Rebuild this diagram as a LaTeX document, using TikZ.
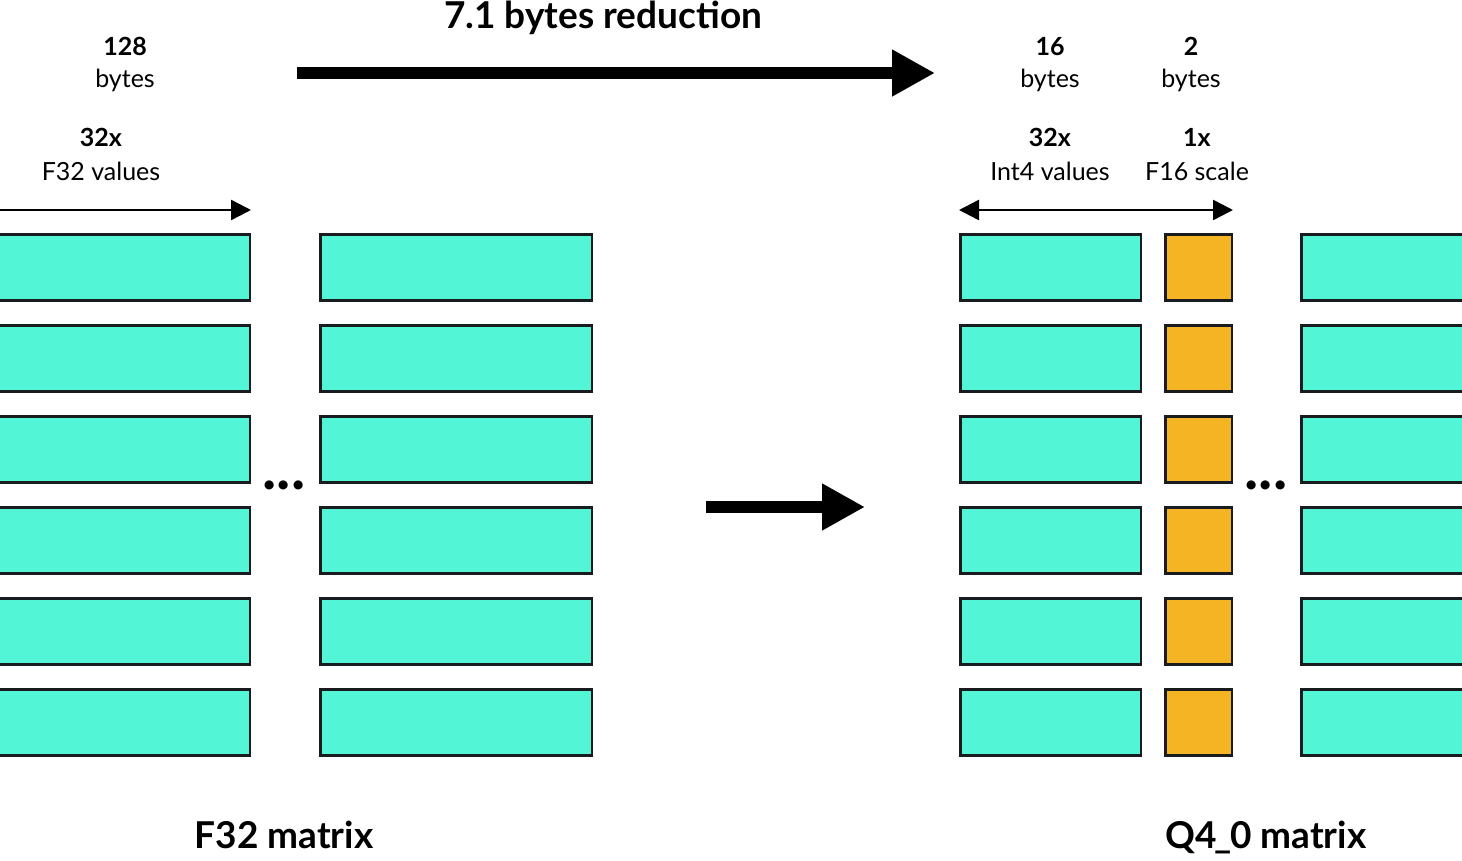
\documentclass[tikz,border=0pt]{standalone}
\usepackage{fontspec}
\setmainfont{Lato}
\usetikzlibrary{arrows.meta}
\definecolor{tealc}{RGB}{82,245,214}
\definecolor{orangec}{RGB}{245,180,36}
\definecolor{edgec}{RGB}{25,28,30}
\tikzset{
  cell/.style={draw=edgec, line width=2.5pt, fill=tealc, anchor=north west, inner sep=0pt, outer sep=0pt, minimum height=66pt},
  scalecell/.style={cell, fill=orangec, minimum width=66.5pt},
  lbl/.style={anchor=base, inner sep=0pt, font=\fontsize{25}{30}\selectfont},
  numlbl/.style={lbl, font=\fontsize{25}{30}\selectfont\bfseries},
  biglbl/.style={anchor=base, inner sep=0pt, font=\fontsize{37}{42}\selectfont\bfseries},
  dotslbl/.style={anchor=base, inner sep=0pt, font=\fontsize{60}{70}\selectfont\bfseries},
  bigarrow/.style={line width=12pt, -{Triangle[length=43pt,width=44pt]}},
  thinarrow/.style={line width=2.5pt, -{Triangle[length=20pt,width=20pt]}},
  thindouble/.style={line width=2.5pt, {Triangle[length=20pt,width=20pt]}-{Triangle[length=20pt,width=20pt]}},
}
\begin{document}
\begin{tikzpicture}[x=1pt,y=-1pt]
\useasboundingbox (0,0) rectangle (1462,860);
\clip (0,0) rectangle (1462,860);
% title and big arrow
\node[biglbl] (title) at (603,28) {7.1 bytes reduction};
\coordinate (bigS) at (297,73);
\coordinate (bigE) at (935,73);
\draw[bigarrow] (bigS) -- (bigE);
% left labels
\node[numlbl] (n128) at (125,55) {128};
\node[lbl] (b128) at (125,87) {bytes};
\node[numlbl] (n32a) at (101,146) {32x};
\node[lbl] (f32v) at (101,180) {F32 values};
\coordinate (laS) at (-5,210);
\coordinate (laE) at (251,210);
\draw[thinarrow] (laS) -- (laE);
% right labels
\node[numlbl] (n16) at (1050,55) {16};
\node[lbl] (b16) at (1050,87) {bytes};
\node[numlbl] (n2) at (1191,55) {2};
\node[lbl] (b2) at (1191,87) {bytes};
\node[numlbl] (n32b) at (1050,146) {32x};
\node[lbl] (i4v) at (1050,180) {Int4 values};
\node[numlbl] (n1) at (1197,146) {1x};
\node[lbl] (f16s) at (1197,180) {F16 scale};
\coordinate (raS) at (959,210);
\coordinate (raE) at (1233,210);
\draw[thindouble] (raS) -- (raE);
% boxes
\foreach \i/\y in {1/234.25,2/325.25,3/416.25,4/507.25,5/598.25,6/689.25}{
  \node[cell, minimum width=269.75pt] (La\i) at (-20,\y) {};
  \node[cell, minimum width=271.5pt] (Lb\i) at (320.25,\y) {};
  \node[cell, minimum width=180.5pt] (Ra\i) at (960.25,\y) {};
  \node[scalecell] (Rs\i) at (1165.25,\y) {};
  \node[cell, minimum width=200pt] (Rb\i) at (1301.25,\y) {};
}
% dots
\node[dotslbl] (ldots) at (284,489) {...};
\node[dotslbl] (rdots) at (1266,489) {...};
% middle arrow
\coordinate (mS) at (706,507);
\coordinate (mE) at (865,507);
\draw[bigarrow] (mS) -- (mE);
% bottom labels
\node[biglbl] (f32m) at (284,848) {F32 matrix};
\node[biglbl] (q40m) at (1266,848) {Q4\kern-2pt\_\kern-2pt0 matrix};
\end{tikzpicture}
\end{document}
